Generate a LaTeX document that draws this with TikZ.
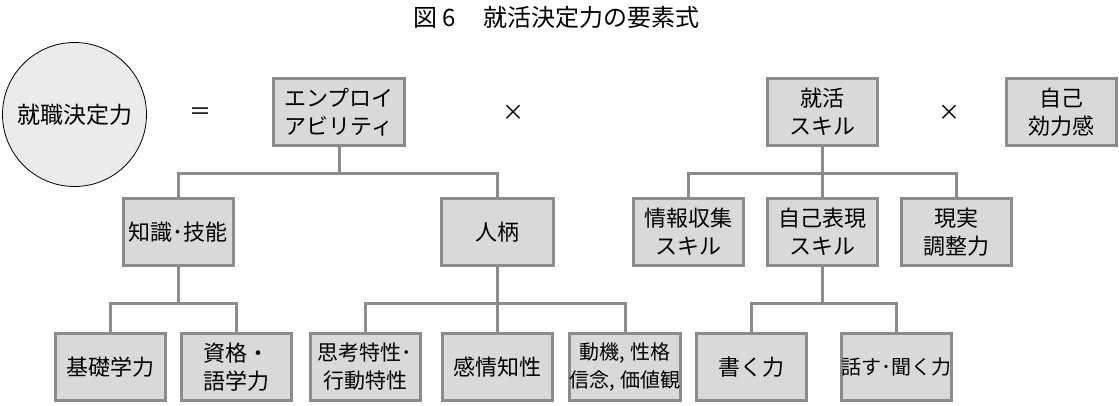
\documentclass[tikz,border=0pt]{standalone}
\usepackage{fontspec}
\setmainfont{Noto Sans CJK JP}
\definecolor{boxfill}{HTML}{D9D9D9}
\definecolor{boxline}{HTML}{8C8C8C}
\definecolor{ballfill}{HTML}{EBEBEB}

\begin{document}
\begin{tikzpicture}[x=1pt, y=-1pt, every node/.style={font=\fontsize{22}{28}\selectfont, align=center, inner sep=0pt},
  box/.style={draw=boxline, fill=boxfill, line width=3pt, minimum width=110pt, minimum height=67pt},
  small/.style={font=\fontsize{20}{28}\selectfont},
  link/.style={draw=boxline, line width=3pt}]
\useasboundingbox (0,0) rectangle (1119,405);
\node[font=\fontsize{24}{28}\selectfont] (title) at (556.5,17) {図 6\hspace{28pt}就活決定力の要素式};
\node[draw=black, fill=ballfill, circle, line width=0.8pt, minimum size=144pt, font=\fontsize{23}{28}\selectfont] (ball) at (74.5,114.5) {就職決定力};
\node (eq) at (200,114) {＝};
\node[box, minimum width=131pt] (emp) at (339,112) {エンプロイ\\アビリティ};
\node (times1) at (513,113) {×};
\node[box] (skill) at (822,112) {就活\\スキル};
\node (times2) at (949,113) {×};
\node[box] (efficacy) at (1061,112) {自己\\効力感};
\node[box] (chishiki) at (178,232) {知識･技能};
\node[box, minimum width=112pt] (hitogara) at (497,232) {人柄};
\node[box] (joho) at (688,232) {情報収集\\スキル};
\node[box] (hyogen) at (822,232) {自己表現\\スキル};
\node[box] (genjitsu) at (956,232) {現実\\調整力};
\node[box] (kiso) at (110,367) {基礎学力};
\node[box] (shikaku) at (236,367) {資格・\\語学力};
\node[box, font=\fontsize{21}{28}\selectfont] (shiko) at (365,367) {思考特性･\\行動特性};
\node[box] (kanjo) at (497,367) {感情知性};
\node[box, small] (doki) at (625,367) {動機, 性格\\信念, 価値観};
\node[box] (kaku) at (751,367) {書く力};
\node[box, small] (hanasu) at (896,367) {話す･聞く力};
\draw[link] (emp.south) -- ++(0,26) -| (chishiki.north);
\draw[link] (emp.south) -- ++(0,26) -| (hitogara.north);
\draw[link] (skill.south) -- ++(0,26) -| (joho.north);
\draw[link] (skill.south) -- (hyogen.north);
\draw[link] (skill.south) -- ++(0,26) -| (genjitsu.north);
\draw[link] (chishiki.south) -- ++(0,36) -| (kiso.north);
\draw[link] (chishiki.south) -- ++(0,36) -| (shikaku.north);
\draw[link] (hitogara.south) -- ++(0,36) -| (shiko.north);
\draw[link] (hitogara.south) -- (kanjo.north);
\draw[link] (hitogara.south) -- ++(0,36) -| (doki.north);
\draw[link] (hyogen.south) -- ++(0,36) -| (kaku.north);
\draw[link] (hyogen.south) -- ++(0,36) -| (hanasu.north);
\end{tikzpicture}
\end{document}
